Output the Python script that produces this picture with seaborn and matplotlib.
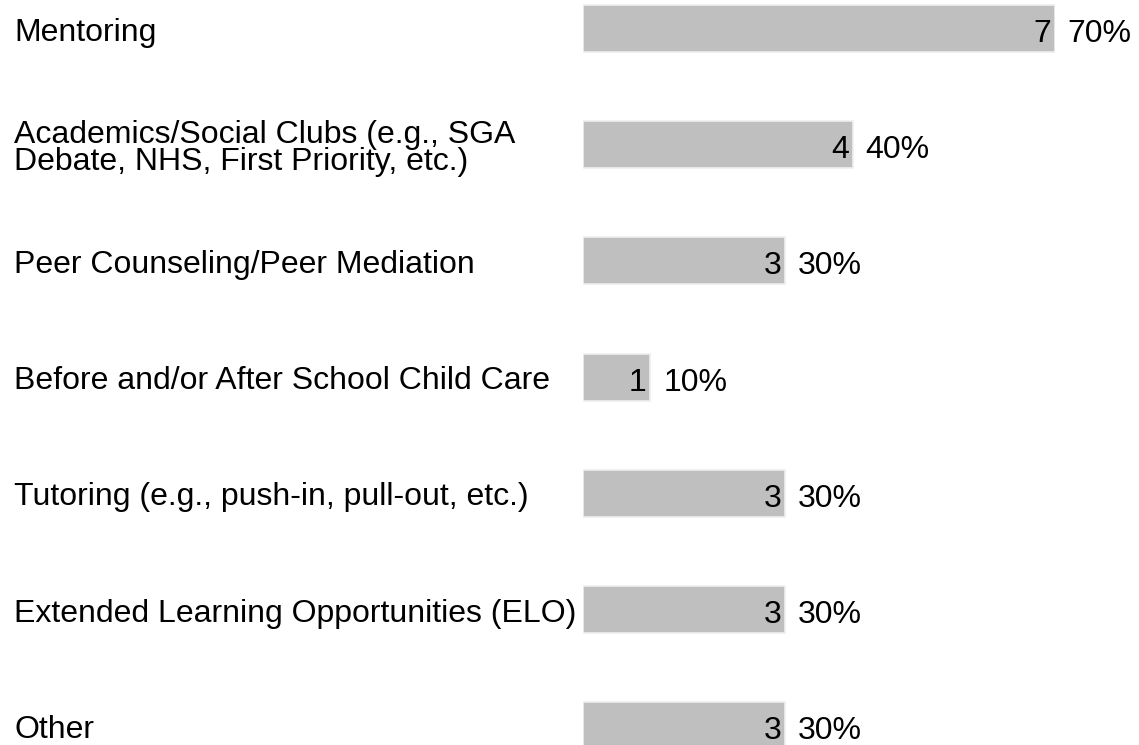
import matplotlib
matplotlib.use("Agg")
import matplotlib.pyplot as plt
import matplotlib.transforms as mtransforms
import seaborn as sns
import pandas as pd

categories = [
    "Mentoring",
    "Academics/Social Clubs (e.g., SGA\nDebate, NHS, First Priority, etc.)",
    "Peer Counseling/Peer Mediation",
    "Before and/or After School Child Care",
    "Tutoring (e.g., push-in, pull-out, etc.)",
    "Extended Learning Opportunities (ELO)",
    "Other",
]
counts = [7, 4, 3, 1, 3, 3, 3]
percents = [70, 40, 30, 10, 30, 30, 30]

sns.set_theme(style="white")
plt.rcParams["font.family"] = ["Liberation Sans", "DejaVu Sans"]

W, H = 1139, 745
fig = plt.figure(figsize=(W / 100, H / 100), dpi=100)
ax = fig.add_axes([583 / W, 0, 472 / W, 1])

df = pd.DataFrame({"cat": categories, "n": counts})
sns.barplot(data=df, x="n", y="cat", orient="h", color="#bfbfbf",
            saturation=1, width=0.405, edgecolor="#efefef", linewidth=1.2, ax=ax)

ax.set_xlim(0, 7)
ax.set_ylim(6.166, -0.245)
ax.set_axis_off()

fs = 23
off = mtransforms.offset_copy(ax.transData, fig=fig, x=0, y=-4, units="points")
lab_tr = mtransforms.blended_transform_factory(fig.transFigure, ax.transData)
lab_off = mtransforms.offset_copy(lab_tr, fig=fig, x=0, y=-3, units="points")

for i, (c, n, p) in enumerate(zip(categories, counts, percents)):
    ax.text(14 / W, i, c, transform=lab_off, ha="left", va="center",
            fontsize=fs, color="black", linespacing=0.86, clip_on=False)
    ax.text(n - 0.06, i, str(n), transform=off, ha="right", va="center",
            fontsize=fs, color="black", clip_on=False)
    ax.text(n + 0.19, i, f"{p}%", transform=off, ha="left", va="center",
            fontsize=fs, color="black", clip_on=False)

fig.savefig("out.png", dpi=100, facecolor="white")
